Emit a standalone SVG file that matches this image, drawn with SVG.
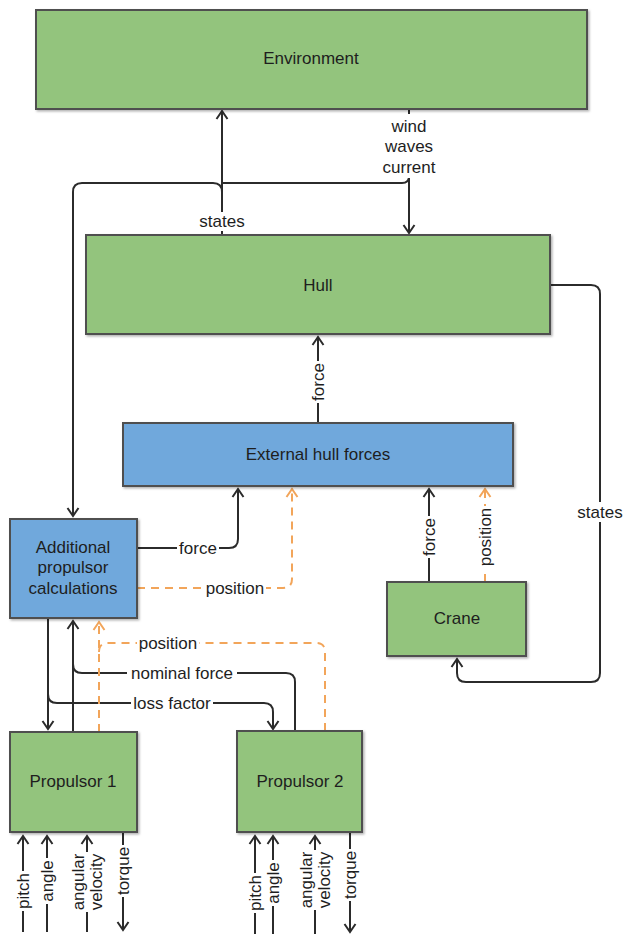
<svg xmlns="http://www.w3.org/2000/svg" width="625" height="937" viewBox="0 0 625 937">
<defs>
<style>
.box{stroke:#4f4f4f;stroke-width:2;filter:url(#sh)}
.g{fill:#93c47d}
.b{fill:#6fa8dc}
text{font-family:"Liberation Sans",Arial,sans-serif;font-size:17px;fill:#1e1e1e}
.c{text-anchor:middle}
.e{fill:none;stroke:#2b2b2b;stroke-width:2}
.d{fill:none;stroke:#f2a55a;stroke-width:2;stroke-dasharray:8 6}
.bg{fill:#ffffff}
</style>
<filter id="sh" x="-5%" y="-5%" width="110%" height="115%">
<feDropShadow dx="1.5" dy="1.5" stdDeviation="1" flood-color="#000" flood-opacity="0.3"/>
</filter>
<marker id="a" markerWidth="14" markerHeight="14" viewBox="-10 -7 12 14" refX="0" refY="0" orient="auto" markerUnits="userSpaceOnUse">
<path d="M-8,-5.5 L0,0 L-8,5.5" fill="none" stroke="#2b2b2b" stroke-width="2"/>
</marker>
<marker id="ao" markerWidth="14" markerHeight="14" viewBox="-10 -7 12 14" refX="0" refY="0" orient="auto" markerUnits="userSpaceOnUse">
<path d="M-8,-5.5 L0,0 L-8,5.5" fill="none" stroke="#f2a55a" stroke-width="2"/>
</marker>
</defs>
<rect width="625" height="937" fill="#ffffff"/>

<g id="connectors">
<!-- states Hull -> Environment -->
<path class="e" d="M222,235 V111" marker-end="url(#a)"/>
<!-- states Hull -> APC (shared trunk) -->
<path class="e" d="M222,192 Q222,183 213,183 H82 Q73,183 73,192 V516" marker-end="url(#a)"/>
<!-- wind waves current Env -> Hull -->
<path class="e" d="M409,109 V233" marker-end="url(#a)"/>
<path class="e" d="M409,176 Q409,183 402,183 H222"/>
<!-- Hull -> Crane states -->
<path class="e" d="M550,285 H591 Q600,285 600,294 V673 Q600,682 591,682 H466 Q457,682 457,673 V659" marker-end="url(#a)"/>
<!-- EHF -> Hull force -->
<path class="e" d="M318,423 V337" marker-end="url(#a)"/>
<!-- APC -> EHF force -->
<path class="e" d="M137,548 H229 Q238,548 238,539 V489" marker-end="url(#a)"/>
<!-- APC -> EHF position -->
<path class="d" d="M137,588 H283 Q292,588 292,579 V489" marker-end="url(#ao)"/>
<!-- Crane -> EHF force -->
<path class="e" d="M429,582 V489" marker-end="url(#a)"/>
<!-- Crane -> EHF position -->
<path class="d" d="M485,582 V489" marker-end="url(#ao)"/>
<!-- APC -> P1 loss factor -->
<path class="e" d="M48,618 V729" marker-end="url(#a)"/>
<!-- APC -> P2 loss factor -->
<path class="e" d="M48,694 Q48,703 57,703 H264 Q273,703 273,712 V729" marker-end="url(#a)"/>
<!-- P1 -> APC nominal force -->
<path class="e" d="M73,732 V621" marker-end="url(#a)"/>
<!-- P2 -> APC nominal force -->
<path class="e" d="M295,731 V682 Q295,673 286,673 H82 Q73,673 73,664"/>
<!-- P1 -> APC position -->
<path class="d" d="M99,732 V622" marker-end="url(#ao)"/>
<!-- P2 -> APC position -->
<path class="d" d="M325,731 V652 Q325,643 316,643 H108 Q99,643 99,652"/>
<!-- Propulsor 1 inputs -->
<path class="e" d="M23,932 V836" marker-end="url(#a)"/>
<path class="e" d="M47,932 V836" marker-end="url(#a)"/>
<path class="e" d="M87,932 V836" marker-end="url(#a)"/>
<path class="e" d="M123,833 V930" marker-end="url(#a)"/>
<!-- Propulsor 2 inputs -->
<path class="e" d="M255,934 V836" marker-end="url(#a)"/>
<path class="e" d="M273,934 V836" marker-end="url(#a)"/>
<path class="e" d="M315,934 V836" marker-end="url(#a)"/>
<path class="e" d="M350,833 V932" marker-end="url(#a)"/>

<!-- labels -->
<g id="labels">
<rect class="bg" x="198" y="212" width="48" height="19"/>
<text class="c" x="222" y="227">states</text>
<rect class="bg" x="380" y="114" width="58" height="64"/>
<text class="c" x="409" y="132">wind</text>
<text class="c" x="409" y="152">waves</text>
<text class="c" x="409" y="173">current</text>
<rect class="bg" x="576" y="502" width="48" height="20"/>
<text class="c" x="600" y="518">states</text>
<rect class="bg" x="177" y="539" width="42" height="19"/>
<text class="c" x="198" y="554">force</text>
<rect class="bg" x="204" y="578" width="62" height="20"/>
<text class="c" x="235" y="594">position</text>
<rect class="bg" x="137" y="633" width="62" height="20"/>
<text class="c" x="168" y="649">position</text>
<rect class="bg" x="127" y="664" width="110" height="19"/>
<text class="c" x="182" y="679">nominal force</text>
<rect class="bg" x="131" y="694" width="82" height="19"/>
<text class="c" x="172" y="709">loss factor</text>
<g transform="translate(318,382) rotate(-90)"><rect class="bg" x="-21" y="-10" width="42" height="20"/><text class="c" y="6">force</text></g>
<g transform="translate(429,537) rotate(-90)"><rect class="bg" x="-21" y="-10" width="42" height="20"/><text class="c" y="6">force</text></g>
<g transform="translate(485,537) rotate(-90)"><rect class="bg" x="-31" y="-10" width="62" height="20"/><text class="c" y="6">position</text></g>
<g transform="translate(23,891) rotate(-90)"><rect class="bg" x="-20" y="-10" width="40" height="20"/><text class="c" y="6">pitch</text></g>
<g transform="translate(47,881) rotate(-90)"><rect class="bg" x="-23" y="-10" width="46" height="20"/><text class="c" y="6">angle</text></g>
<g transform="translate(87,882) rotate(-90)"><rect class="bg" x="-30" y="-19" width="60" height="38"/><text class="c" y="-3">angular</text><text class="c" y="15">velocity</text></g>
<g transform="translate(123,871) rotate(-90)"><rect class="bg" x="-26" y="-10" width="52" height="20"/><text class="c" y="6">torque</text></g>
<g transform="translate(255,893) rotate(-90)"><rect class="bg" x="-20" y="-10" width="40" height="20"/><text class="c" y="6">pitch</text></g>
<g transform="translate(273,883) rotate(-90)"><rect class="bg" x="-23" y="-10" width="46" height="20"/><text class="c" y="6">angle</text></g>
<g transform="translate(315,880) rotate(-90)"><rect class="bg" x="-30" y="-19" width="60" height="38"/><text class="c" y="-3">angular</text><text class="c" y="15">velocity</text></g>
<g transform="translate(350,875) rotate(-90)"><rect class="bg" x="-26" y="-10" width="52" height="20"/><text class="c" y="6">torque</text></g>
</g>
</g>

<g id="environment">
<rect class="box g" x="36" y="10" width="551" height="99"/>
<text class="c" x="311" y="64">Environment</text>
</g>
<g id="hull">
<rect class="box g" x="86" y="235" width="464" height="99"/>
<text class="c" x="318" y="291">Hull</text>
</g>
<g id="external-hull-forces">
<rect class="box b" x="123" y="423" width="390" height="63"/>
<text class="c" x="318" y="460">External hull forces</text>
</g>
<g id="additional-propulsor-calculations">
<rect class="box b" x="10" y="519" width="127" height="99"/>
<text class="c" x="73" y="553">Additional</text>
<text class="c" x="73" y="573">propulsor</text>
<text class="c" x="73" y="594">calculations</text>
</g>
<g id="crane">
<rect class="box g" x="387" y="582" width="139" height="74"/>
<text class="c" x="457" y="624">Crane</text>
</g>
<g id="propulsor-1">
<rect class="box g" x="10" y="732" width="127" height="100"/>
<text class="c" x="73" y="787">Propulsor 1</text>
</g>
<g id="propulsor-2">
<rect class="box g" x="237" y="731" width="125" height="101"/>
<text class="c" x="300" y="787">Propulsor 2</text>
</g>
</svg>
